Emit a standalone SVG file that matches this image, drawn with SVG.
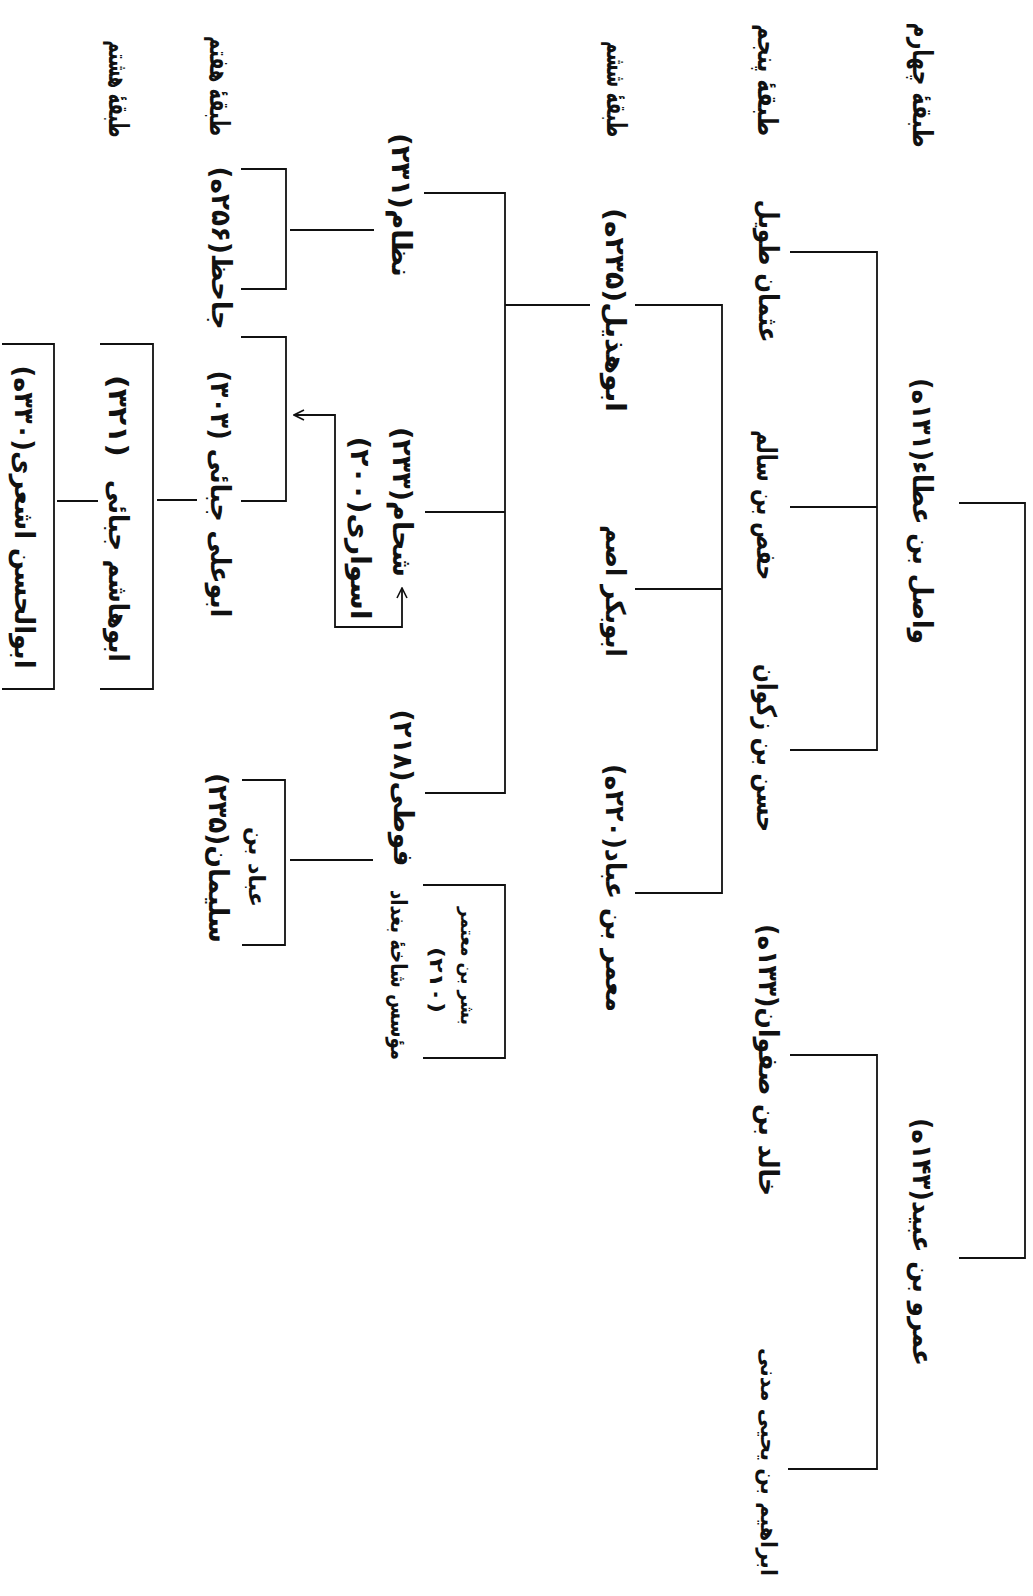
<svg xmlns="http://www.w3.org/2000/svg" width="1033" height="1596" viewBox="0 0 1033 1596">
<defs>
<style>
.t{font-family:'DejaVu Sans','Noto Sans',sans-serif;font-size:27px;font-weight:bold;fill:#111;text-anchor:middle;dominant-baseline:central;direction:rtl}
.s{font-size:19px}
.m{font-size:22px}
.c{fill:none;stroke:#111;stroke-width:1.8}
</style>
<marker id="ah" viewBox="0 0 12 12" refX="11" refY="6" markerWidth="12" markerHeight="12" markerUnits="userSpaceOnUse" orient="auto-start-reverse">
<path d="M1,1 L11,6 L1,11" fill="none" stroke="#111" stroke-width="1.6"/>
</marker>
</defs>
<rect width="1033" height="1596" fill="#fff"/>

<g id="connectors" class="c">
<path d="M959,503 H1025 V1258 H959"/>
<path d="M790,252 H877 V750 H790 M790,507 H877"/>
<path d="M790,1055 H877 V1469 H788"/>
<path d="M635,305 H722 V893 H635 M635,589 H722"/>
<path d="M424,193 H505 V793 H425 M505,305 H590 M425,512 H505"/>
<path d="M423,885 H505 V1058 H423"/>
<path d="M374,230 H290"/>
<path d="M241,169 H286 V289 H241"/>
<path d="M241,337 H286 V501 H241"/>
<path d="M402,588 V627 H335 V415 H294" marker-start="url(#ah)" marker-end="url(#ah)"/>
<path d="M157,500 H197"/>
<path d="M100,344 H153 V689 H100"/>
<path d="M57,501 H98"/>
<path d="M2,344 H54 V689 H2"/>
<path d="M290,860 H373"/>
<path d="M242,780 H285 V945 H242"/>
</g>

<g id="labels">
<text class="t" transform="translate(922,85) rotate(90)" textLength="125" lengthAdjust="spacingAndGlyphs">طبقهٔ چهارم</text>
<text class="t" transform="translate(767,80) rotate(90)" textLength="112" lengthAdjust="spacingAndGlyphs">طبقهٔ پنجم</text>
<text class="t" transform="translate(616,89) rotate(90)" textLength="96" lengthAdjust="spacingAndGlyphs">طبقهٔ ششم</text>
<text class="t" transform="translate(219,86) rotate(90)" textLength="100" lengthAdjust="spacingAndGlyphs">طبقهٔ هفتم</text>
<text class="t" transform="translate(118,89) rotate(90)" textLength="97" lengthAdjust="spacingAndGlyphs">طبقهٔ هشتم</text>
</g>

<g id="wasil"><text class="t" transform="translate(922,511) rotate(90)" textLength="266" lengthAdjust="spacingAndGlyphs">واصل بن عطاء(۱۳۱ه)</text></g>
<g id="amr"><text class="t" transform="translate(922,1242) rotate(90)" textLength="248" lengthAdjust="spacingAndGlyphs">عمرو بن عبید(۱۴۳ه)</text></g>

<g id="uthman"><text class="t" transform="translate(768,271) rotate(90)" textLength="143" lengthAdjust="spacingAndGlyphs">عثمان طویل</text></g>
<g id="hafs"><text class="t" transform="translate(766,505) rotate(90)" textLength="150" lengthAdjust="spacingAndGlyphs">حفص بن سالم</text></g>
<g id="hasan"><text class="t" transform="translate(766,748) rotate(90)" textLength="168" lengthAdjust="spacingAndGlyphs">حسن بن زکوان</text></g>
<g id="khalid"><text class="t" transform="translate(768,1060) rotate(90)" textLength="272" lengthAdjust="spacingAndGlyphs">خالد بن صفوان(۱۳۳ه)</text></g>
<g id="ibrahim"><text class="t m" transform="translate(768,1462) rotate(90)" textLength="228" lengthAdjust="spacingAndGlyphs">ابراهیم بن یحیی مدنی</text></g>

<g id="abuhudhayl"><text class="t" transform="translate(615,310) rotate(90)" textLength="204" lengthAdjust="spacingAndGlyphs">ابوهذیل(۲۳۵ه)</text></g>
<g id="abubakr"><text class="t" transform="translate(615,591) rotate(90)" textLength="132" lengthAdjust="spacingAndGlyphs">ابوبکر اصم</text></g>
<g id="muammar"><text class="t" transform="translate(615,888) rotate(90)" textLength="248" lengthAdjust="spacingAndGlyphs">معمر بن عباد(۲۲۰ه)</text></g>

<g id="nazzam"><text class="t" transform="translate(401,205) rotate(90)" textLength="144" lengthAdjust="spacingAndGlyphs">نظام(۲۳۱)</text></g>
<g id="shahham"><text class="t" transform="translate(402,502) rotate(90)" textLength="150" lengthAdjust="spacingAndGlyphs">شحام(۲۳۳)</text></g>
<g id="aswari"><text class="t" transform="translate(360,528) rotate(90)" textLength="183" lengthAdjust="spacingAndGlyphs">اسواری(۲۰۰)</text></g>
<g id="fuwati"><text class="t" transform="translate(403,788) rotate(90)" textLength="157" lengthAdjust="spacingAndGlyphs">فوطی(۲۱۸)</text></g>
<g id="bishr">
<text class="t s" transform="translate(468,966) rotate(90)" textLength="118" lengthAdjust="spacingAndGlyphs">بشر بن معتمر</text>
<text class="t s" transform="translate(437,980) rotate(90)" textLength="66" lengthAdjust="spacingAndGlyphs">(۲۱۰)</text>
<text class="t m" transform="translate(398,975) rotate(90)" textLength="170" lengthAdjust="spacingAndGlyphs">مؤسس شاخهٔ بغداد</text>
</g>

<g id="jahiz"><text class="t" transform="translate(221,248) rotate(90)" textLength="163" lengthAdjust="spacingAndGlyphs">جاحظ(۲۵۶ه)</text></g>
<g id="abuali"><text class="t" transform="translate(220,494) rotate(90)" textLength="247" lengthAdjust="spacingAndGlyphs">ابوعلی جبائی (۳۰۳)</text></g>
<g id="abbad">
<text class="t m" transform="translate(256,867) rotate(90)" textLength="80" lengthAdjust="spacingAndGlyphs">عباد بن</text>
<text class="t" transform="translate(218,858) rotate(90)" textLength="170" lengthAdjust="spacingAndGlyphs">سلیمان(۲۳۵)</text>
</g>

<g id="abuhashim">
<text class="t" transform="translate(118,571) rotate(90)" textLength="182" lengthAdjust="spacingAndGlyphs">ابوهاشم جبائی</text>
<text class="t" transform="translate(118,416) rotate(90)" textLength="82" lengthAdjust="spacingAndGlyphs">(۳۲۱)</text>
</g>
<g id="ashari"><text class="t" transform="translate(24,517) rotate(90)" textLength="303" lengthAdjust="spacingAndGlyphs">ابوالحسن اشعری(۳۳۰ه)</text></g>
</svg>
